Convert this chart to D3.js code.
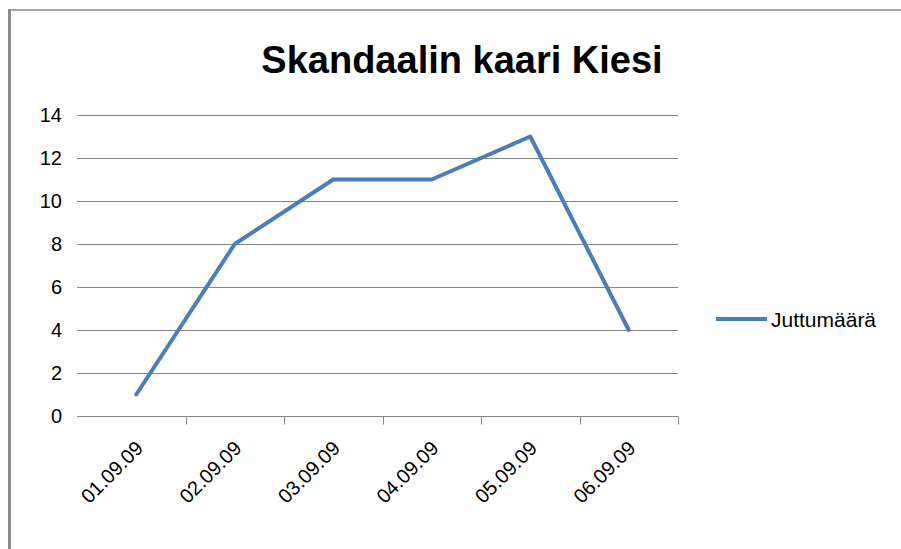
<!DOCTYPE html>
<html>
<head>
<meta charset="utf-8">
<script src="https://cdn.jsdelivr.net/npm/d3@7"></script>
<style>
  body { margin: 0; background: #fff; }
  svg text { font-family: "Liberation Sans", Arial, sans-serif; }
</style>
</head>
<body>
<div id="chart"></div>
<script>
const categories = ["01.09.09", "02.09.09", "03.09.09", "04.09.09", "05.09.09", "06.09.09"];
const juttumaara = [1, 8, 11, 11, 13, 4];
const yTicks = [0, 2, 4, 6, 8, 10, 12, 14];
const seriesName = "Juttumäärä";
const title = "Skandaalin kaari Kiesi";

const width = 901, height = 549;
const svg = d3.select("#chart").append("svg")
    .attr("width", width)
    .attr("height", height);

// chart frame (only left and top edges are visible)
svg.append("line")
    .attr("x1", 9.5).attr("x2", 9.5).attr("y1", 9).attr("y2", height)
    .attr("stroke", "#8c8c8c").attr("stroke-width", 3);
svg.append("line")
    .attr("x1", 8).attr("x2", width).attr("y1", 10).attr("y2", 10)
    .attr("stroke", "#8c8c8c").attr("stroke-width", 1.5);

const plotLeft = 77, plotRight = 678;

const x = d3.scaleBand()
    .domain(categories)
    .range([87, plotRight]);

const y = d3.scaleLinear()
    .domain([0, 14])
    .range([416, 115]);

// horizontal gridlines
svg.append("g")
    .selectAll("line")
    .data(yTicks.filter(d => d > 0))
    .join("line")
    .attr("x1", plotLeft).attr("x2", plotRight)
    .attr("y1", d => Math.round(y(d)) + 0.5)
    .attr("y2", d => Math.round(y(d)) + 0.5)
    .attr("stroke", "#868686");

// y tick labels
svg.append("g")
    .selectAll("text")
    .data(yTicks)
    .join("text")
    .attr("x", 62)
    .attr("y", d => y(d))
    .attr("dy", "0.36em")
    .attr("text-anchor", "end")
    .attr("font-size", 20)
    .attr("fill", "#000")
    .text(d => d);

// x axis line and ticks
const axisY = Math.round(y(0)) + 0.5;
svg.append("line")
    .attr("x1", plotLeft).attr("x2", plotRight)
    .attr("y1", axisY).attr("y2", axisY)
    .attr("stroke", "#868686");

svg.append("g")
    .selectAll("line")
    .data(categories)
    .join("line")
    .attr("x1", d => Math.round(x(d) + x.bandwidth()) + 0.5)
    .attr("x2", d => Math.round(x(d) + x.bandwidth()) + 0.5)
    .attr("y1", axisY).attr("y2", axisY + 8)
    .attr("stroke", "#868686");

// x tick labels, rotated
svg.append("g")
    .selectAll("text")
    .data(categories)
    .join("text")
    .attr("transform", d => `translate(${x(d) + x.bandwidth() / 2 + 8},${axisY + 33}) rotate(-45)`)
    .attr("text-anchor", "end")
    .attr("font-size", 20)
    .attr("fill", "#000")
    .text(d => d);

// series line
const line = d3.line()
    .x((d, i) => x(categories[i]) + x.bandwidth() / 2)
    .y(d => y(d));

svg.append("path")
    .datum(juttumaara)
    .attr("fill", "none")
    .attr("stroke", "#4a7ebb")
    .attr("stroke-width", 4)
    .attr("stroke-linejoin", "round")
    .attr("stroke-linecap", "round")
    .attr("d", line);

// title
svg.append("text")
    .attr("x", 462)
    .attr("y", 73)
    .attr("text-anchor", "middle")
    .attr("font-size", 38)
    .attr("font-weight", "bold")
    .attr("fill", "#000")
    .text(title);

// legend
svg.append("line")
    .attr("x1", 716).attr("x2", 767)
    .attr("y1", 319).attr("y2", 319)
    .attr("stroke", "#4a7ebb")
    .attr("stroke-width", 4);
svg.append("text")
    .attr("x", 771)
    .attr("y", 319)
    .attr("dy", "0.36em")
    .attr("font-size", 21)
    .attr("fill", "#000")
    .text(seriesName);
</script>
</body>
</html>
